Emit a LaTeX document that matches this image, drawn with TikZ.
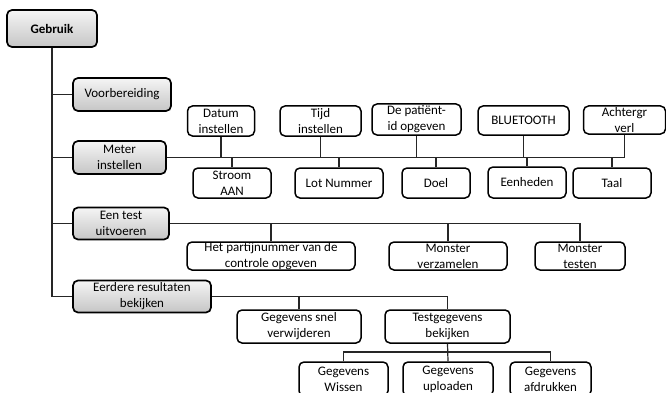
\documentclass[tikz,border=0pt]{standalone}
\usepackage{fontspec}
\setmainfont{Carlito}
\usetikzlibrary{calc}

\tikzset{
    hoofd/.style = {draw = black, line width = 1.7pt, rounded corners = 5pt,
        top color = gray!8, bottom color = gray!45, align = center, inner sep = 0pt},
    blok/.style = {draw = black, line width = 1.5pt, rounded corners = 5pt,
        fill = white, align = center, inner sep = 0pt},
    tak/.style = {black!85, line width = 1.2pt}
}

\begin{document}
\begin{tikzpicture}[x = 1pt, y = -1pt, font = \fontsize{13}{16}\selectfont]
            \useasboundingbox (0, 0) rectangle (666, 393);
            
            % hoofdtakken
            \node[hoofd, minimum width = 90pt, minimum height = 37pt, font = \fontsize{13}{16}\selectfont\bfseries] (gebruik) at (52, 28.5) {Gebruik};
            \node[hoofd, minimum width = 98pt, minimum height = 33pt] (voorb) at (122, 94.5) {Voorbereiding};
            \node[hoofd, minimum width = 93pt, minimum height = 33pt] (meter) at (119.5, 157.5) {Meter\\instellen};
            \node[hoofd, minimum width = 96pt, minimum height = 32pt] (test) at (121, 223.5) {Een test\\uitvoeren};
            \node[hoofd, minimum width = 138pt, minimum height = 32pt] (eerder) at (142, 296.5) {Eerdere resultaten\\bekijken};
            
            \draw[tak] (gebruik.south) |- (voorb.west);
            \draw[tak] (gebruik.south) |- (meter.west);
            \draw[tak] (gebruik.south) |- (test.west);
            \draw[tak] (gebruik.south) |- (eerder.west);
            
            % meter instellen
            \node[blok, minimum width = 67pt, minimum height = 30pt] (datum) at (221, 121) {Datum\\instellen};
            \node[blok, minimum width = 81pt, minimum height = 30pt] (tijd) at (320.5, 121) {Tijd\\instellen};
            \node[blok, minimum width = 89pt, minimum height = 31pt] (patient) at (416.5, 119.5) {De patiënt-\\id opgeven};
            \node[blok, minimum width = 91pt, minimum height = 29pt] (bluetooth) at (523.5, 120.5) {BLUETOOTH};
            \node[blok, minimum width = 82pt, minimum height = 28pt] (achter) at (624.5, 120) {Achtergr\\verl};
            
            \node[blok, minimum width = 78pt, minimum height = 30pt] (stroom) at (232, 183) {Stroom\\AAN};
            \node[blok, minimum width = 88pt, minimum height = 30pt] (lot) at (339, 183) {Lot Nummer};
            \node[blok, minimum width = 68pt, minimum height = 30pt] (doel) at (436, 183) {Doel};
            \node[blok, minimum width = 78pt, minimum height = 31pt] (eenheden) at (527, 182.5) {Eenheden};
            \node[blok, minimum width = 78pt, minimum height = 30pt] (taal) at (612, 183) {Taal};
            
            \draw[tak] (meter.east) -| (achter.south);
            \foreach \n in {datum, tijd, patient, bluetooth, stroom, lot, doel, eenheden, taal}
                \draw[tak] (\n) -- (\n |- meter.east);
            
            % een test uitvoeren
            \node[blok, minimum width = 168pt, minimum height = 28pt] (partij) at (271, 256) {Het partijnummer van de\\controle opgeven};
            \node[blok, minimum width = 118pt, minimum height = 28pt] (verzamel) at (448, 256) {Monster\\verzamelen};
            \node[blok, minimum width = 90pt, minimum height = 28pt] (testen) at (580, 256) {Monster\\testen};
            
            \draw[tak] (test.east) -| (testen.north);
            \draw[tak] (partij.north) -- (partij.north |- test.east);
            \draw[tak] (verzamel.north) -- (verzamel.north |- test.east);
            
            % eerdere resultaten
            \node[blok, minimum width = 124pt, minimum height = 33pt] (snel) at (299, 326.5) {Gegevens snel\\verwijderen};
            \node[blok, minimum width = 125pt, minimum height = 33pt] (bekijk) at (447.5, 326.5) {Testgegevens\\bekijken};
            
            \draw[tak] (eerder.east) -| (bekijk.north);
            \draw[tak] (snel.north) -- (snel.north |- eerder.east);
            
            \node[blok, minimum width = 89pt, minimum height = 34pt] (wissen) at (343.5, 379) {Gegevens\\Wissen};
            \node[blok, minimum width = 90pt, minimum height = 34pt] (upload) at (448, 379) {Gegevens\\uploaden};
            \node[blok, minimum width = 81pt, minimum height = 34pt] (afdruk) at (550.5, 379) {Gegevens\\afdrukken};
            
            \coordinate (splits) at (448, 352);
            \draw[tak] (bekijk.south) -- (upload.north);
            \draw[tak] (wissen.north) |- (splits) -| (afdruk.north);
        \end{tikzpicture}
\end{document}
